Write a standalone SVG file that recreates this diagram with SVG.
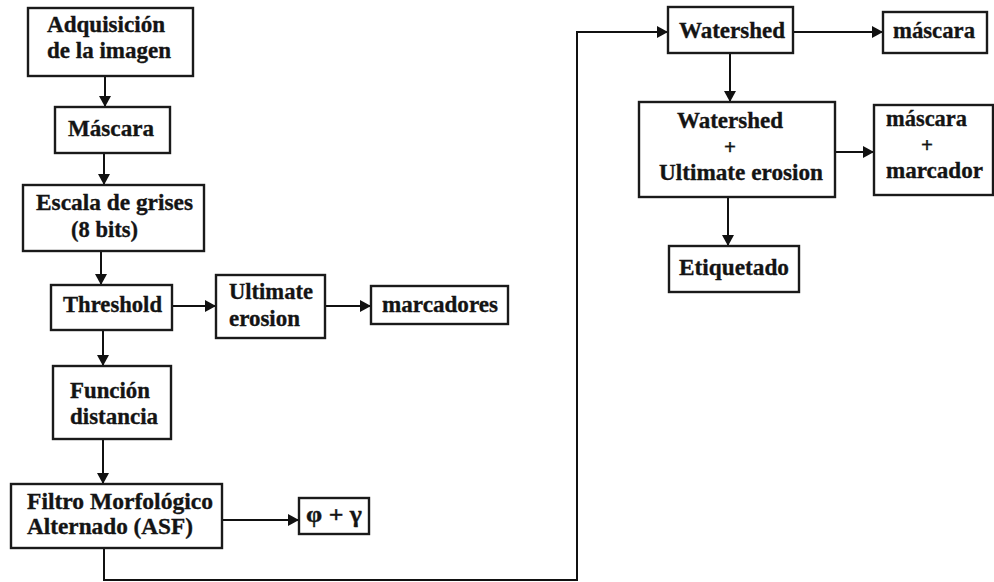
<svg xmlns="http://www.w3.org/2000/svg" width="994" height="582" viewBox="0 0 994 582">
  <style>
    .box { fill: #ffffff; stroke: #1a1a1a; stroke-width: 2.4; }
    .lbl { font-family: 'Liberation Serif', serif; font-weight: 700; font-size: 24px; fill: #141414; stroke: #141414; stroke-width: 0.35; }
    .plus { font-size: 21px; }
    .edge { fill: none; stroke: #111111; stroke-width: 2; }
  </style>
  <defs>
    <marker id="arrow" markerUnits="userSpaceOnUse" markerWidth="11" markerHeight="12" refX="11" refY="6" orient="auto">
      <path d="M0,0 L11,6 L0,12 z" fill="#111111"/>
    </marker>
  </defs>
  <rect width="994" height="582" fill="#ffffff"/>

  <!-- connectors -->
  <g id="connectors">
    <line class="edge" x1="105" y1="76" x2="105" y2="107" marker-end="url(#arrow)"/>
    <line class="edge" x1="104" y1="153" x2="104" y2="185" marker-end="url(#arrow)"/>
    <line class="edge" x1="101" y1="251" x2="101" y2="285" marker-end="url(#arrow)"/>
    <line class="edge" x1="172" y1="306" x2="216" y2="306" marker-end="url(#arrow)"/>
    <line class="edge" x1="325" y1="306" x2="371" y2="306" marker-end="url(#arrow)"/>
    <line class="edge" x1="103" y1="330" x2="103" y2="366" marker-end="url(#arrow)"/>
    <line class="edge" x1="103" y1="439" x2="103" y2="484" marker-end="url(#arrow)"/>
    <line class="edge" x1="222" y1="520" x2="299" y2="520" marker-end="url(#arrow)"/>
    <polyline class="edge" points="104,548 104,580 577,580 577,32 668,32" marker-end="url(#arrow)"/>
    <line class="edge" x1="793" y1="32" x2="883" y2="32" marker-end="url(#arrow)"/>
    <line class="edge" x1="730" y1="53" x2="730" y2="102" marker-end="url(#arrow)"/>
    <line class="edge" x1="835" y1="152" x2="874" y2="152" marker-end="url(#arrow)"/>
    <line class="edge" x1="728" y1="197" x2="728" y2="246" marker-end="url(#arrow)"/>
  </g>

  <g id="adquisicion">
    <rect class="box" x="28" y="8" width="165" height="68"/>
    <text class="lbl" x="47" y="32" textLength="118" lengthAdjust="spacingAndGlyphs">Adquisición</text>
    <text class="lbl" x="47" y="58" textLength="124" lengthAdjust="spacingAndGlyphs">de la imagen</text>
  </g>
  <g id="mascara">
    <rect class="box" x="55" y="107" width="115" height="46"/>
    <text class="lbl" x="68" y="136" textLength="86" lengthAdjust="spacingAndGlyphs">Máscara</text>
  </g>
  <g id="escala-grises">
    <rect class="box" x="23" y="185" width="181" height="66"/>
    <text class="lbl" x="36" y="210" textLength="157" lengthAdjust="spacingAndGlyphs">Escala de grises</text>
    <text class="lbl" x="71" y="237" textLength="67" lengthAdjust="spacingAndGlyphs">(8 bits)</text>
  </g>
  <g id="threshold">
    <rect class="box" x="51" y="285" width="121" height="45"/>
    <text class="lbl" x="63" y="312" textLength="99" lengthAdjust="spacingAndGlyphs">Threshold</text>
  </g>
  <g id="ultimate-erosion">
    <rect class="box" x="216" y="275" width="109" height="63"/>
    <text class="lbl" x="229" y="299" textLength="84" lengthAdjust="spacingAndGlyphs">Ultimate</text>
    <text class="lbl" x="229" y="326" textLength="71" lengthAdjust="spacingAndGlyphs">erosion</text>
  </g>
  <g id="marcadores">
    <rect class="box" x="371" y="286" width="137" height="38"/>
    <text class="lbl" x="382" y="312" textLength="116" lengthAdjust="spacingAndGlyphs">marcadores</text>
  </g>
  <g id="funcion-distancia">
    <rect class="box" x="53" y="366" width="118" height="73"/>
    <text class="lbl" x="70" y="398" textLength="80" lengthAdjust="spacingAndGlyphs">Función</text>
    <text class="lbl" x="70" y="424" textLength="88" lengthAdjust="spacingAndGlyphs">distancia</text>
  </g>
  <g id="filtro-asf">
    <rect class="box" x="11" y="484" width="211" height="64"/>
    <text class="lbl" x="27" y="509" textLength="186" lengthAdjust="spacingAndGlyphs">Filtro Morfológico</text>
    <text class="lbl" x="27" y="534" textLength="166" lengthAdjust="spacingAndGlyphs">Alternado (ASF)</text>
  </g>
  <g id="phi-gamma">
    <rect class="box" x="299" y="498" width="70" height="36"/>
    <text class="lbl" x="306" y="522" textLength="56" lengthAdjust="spacingAndGlyphs">φ + γ</text>
  </g>
  <g id="watershed">
    <rect class="box" x="668" y="7" width="125" height="46"/>
    <text class="lbl" x="679" y="38" textLength="106" lengthAdjust="spacingAndGlyphs">Watershed</text>
  </g>
  <g id="mascara-out">
    <rect class="box" x="883" y="12" width="104" height="41"/>
    <text class="lbl" x="893" y="38" textLength="82" lengthAdjust="spacingAndGlyphs">máscara</text>
  </g>
  <g id="watershed-ultimate">
    <rect class="box" x="639" y="102" width="196" height="95"/>
    <text class="lbl" x="677" y="128" textLength="106" lengthAdjust="spacingAndGlyphs">Watershed</text>
    <text class="lbl plus" x="730" y="154" text-anchor="middle">+</text>
    <text class="lbl" x="659" y="180" textLength="164" lengthAdjust="spacingAndGlyphs">Ultimate erosion</text>
  </g>
  <g id="mascara-marcador">
    <rect class="box" x="874" y="105" width="119" height="90"/>
    <text class="lbl" x="886" y="126" textLength="81" lengthAdjust="spacingAndGlyphs">máscara</text>
    <text class="lbl plus" x="927" y="152" text-anchor="middle">+</text>
    <text class="lbl" x="886" y="178" textLength="97" lengthAdjust="spacingAndGlyphs">marcador</text>
  </g>
  <g id="etiquetado">
    <rect class="box" x="669" y="246" width="130" height="46"/>
    <text class="lbl" x="679" y="275" textLength="110" lengthAdjust="spacingAndGlyphs">Etiquetado</text>
  </g>
</svg>
